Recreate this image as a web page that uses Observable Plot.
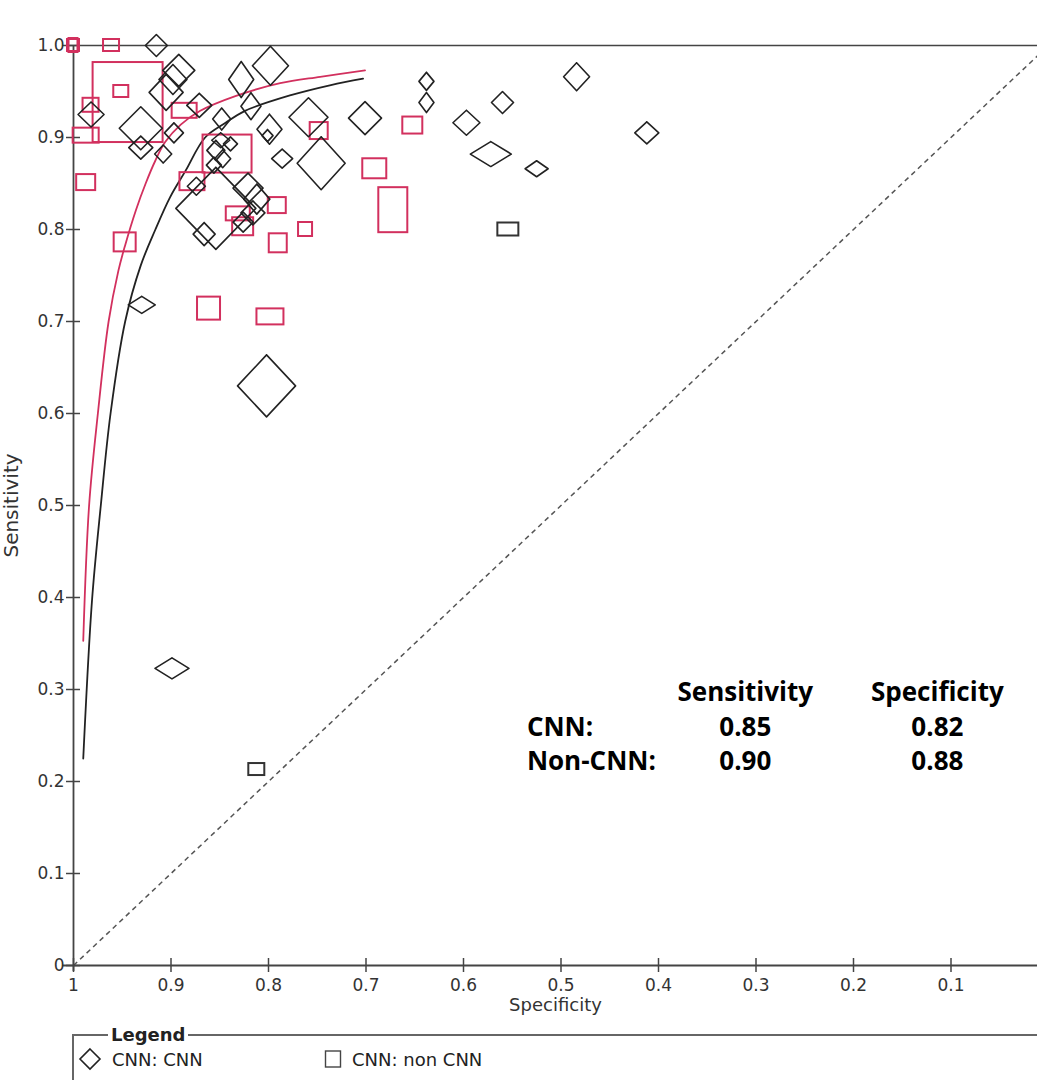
<!DOCTYPE html>
<html>
<head>
<meta charset="utf-8">
<script src="https://cdn.jsdelivr.net/npm/d3@7"></script>
<script src="https://cdn.jsdelivr.net/npm/@observablehq/plot@0.6"></script>
<style>
  html, body { margin: 0; padding: 0; background: #fff; width: 1037px; height: 1080px; overflow: hidden; }
  #chart { position: absolute; left: 0; top: 0; width: 1037px; height: 1022px; overflow: hidden; }
  #chart svg { overflow: hidden; }
  g[aria-label="table header"] text { text-decoration: underline; }
  #legend {
    position: absolute; left: 72px; top: 1025px; width: 1040px; height: 80px;
    margin: 0; padding: 0; border: 2px solid #666; border-right: none;
    font-family: "DejaVu Sans", sans-serif; font-size: 18px; color: #222;
    box-sizing: border-box;
  }
  #legend legend { font-weight: bold; padding: 0 3px; margin-left: 34px; font-size: 18px; line-height: 20px; }
  #legend .item { position: absolute; top: 2px; display: flex; align-items: center; }
</style>
</head>
<body>
<div id="chart"></div>
<fieldset id="legend"><legend>Legend</legend></fieldset>
<script>
// ---------- data ----------
// CNN studies (diamonds): specificity, sensitivity, relative symbol width (negatives) and height (positives)
const cnnSpec = [0.915, 0.982, 0.931, 0.892, 0.898, 0.905, 0.931, 0.908, 0.897, 0.871, 0.848, 0.798, 0.828, 0.818,
  0.799, 0.801, 0.759, 0.701, 0.746, 0.638, 0.638, 0.597, 0.560, 0.572, 0.525, 0.484, 0.412, 0.786, 0.854, 0.866,
  0.821, 0.812, 0.816, 0.826, 0.874, 0.854, 0.847, 0.856, 0.849, 0.839, 0.930, 0.802, 0.899];
const cnnSens = [1.000, 0.925, 0.910, 0.973, 0.963, 0.949, 0.889, 0.882, 0.905, 0.935, 0.920, 0.978, 0.963, 0.934,
  0.909, 0.902, 0.922, 0.921, 0.872, 0.961, 0.938, 0.916, 0.938, 0.882, 0.866, 0.966, 0.905, 0.877, 0.823, 0.795,
  0.845, 0.833, 0.818, 0.808, 0.847, 0.886, 0.877, 0.870, 0.897, 0.893, 0.718, 0.630, 0.323];
const cnnWNeg = [22, 26, 43, 32, 28, 34, 24, 17, 19, 25, 18, 36, 25, 20, 25, 11, 39, 33, 48, 15, 15, 27, 22, 41, 23,
  26, 24, 21, 80, 22, 30, 26, 24, 20, 18, 18, 16, 15, 18, 14, 27, 58, 34];
const cnnWPos = [22, 25, 43, 32, 30, 36, 23, 18, 20, 24, 22, 39, 36, 27, 30, 12, 39, 33, 53, 18, 20, 25, 22, 25, 16,
  28, 22, 19, 82, 23, 30, 30, 24, 20, 18, 20, 18, 16, 15, 14, 17, 62, 21];

// non-CNN studies (squares)
const nonSpec = [1.000, 1.000, 0.961, 0.944, 0.951, 0.982, 0.987, 0.987, 0.947, 0.886, 0.748, 0.652, 0.691, 0.672,
  0.762, 0.791, 0.790, 0.842, 0.831, 0.826, 0.878, 0.861, 0.798, 0.554, 0.812];
const nonSens = [1.000, 1.000, 1.000, 0.938, 0.950, 0.935, 0.902, 0.851, 0.786, 0.929, 0.907, 0.913, 0.866, 0.821,
  0.800, 0.826, 0.785, 0.882, 0.817, 0.803, 0.852, 0.714, 0.705, 0.800, 0.213];
const nonWNeg = [12, 9, 16, 70, 15, 16, 26, 19, 22, 25, 18, 20, 24, 29, 14, 18, 18, 49, 24, 21, 25, 23, 27, 21, 16];
const nonWPos = [12, 14, 12, 80, 12, 14, 15, 16, 19, 15, 17, 17, 20, 45, 14, 16, 19, 38, 14, 18, 18, 23, 16, 13, 12];
const nonPooled = [true, true, true, true, true, true, true, true, true, true, true, true, true, true,
  true, true, true, true, true, true, true, true, true, false, false];

// SROC curves
const curveCnnSpec = [0.990, 0.981, 0.972, 0.962, 0.947, 0.931, 0.916, 0.901, 0.885, 0.865, 0.844, 0.824, 0.777, 0.736, 0.703];
const curveCnnSens = [0.225, 0.397, 0.500, 0.600, 0.700, 0.761, 0.800, 0.835, 0.864, 0.900, 0.916, 0.929, 0.946, 0.957, 0.964];
const curveNonSpec = [0.990, 0.984, 0.975, 0.964, 0.954, 0.947, 0.936, 0.926, 0.916, 0.906, 0.890, 0.870, 0.834, 0.788, 0.747, 0.701];
const curveNonSens = [0.353, 0.500, 0.600, 0.700, 0.755, 0.783, 0.821, 0.850, 0.875, 0.895, 0.914, 0.929, 0.945, 0.959, 0.966, 0.973];

// axes
const xTicks = [1, 0.9, 0.8, 0.7, 0.6, 0.5, 0.4, 0.3, 0.2, 0.1];
const yTicks = [0, 0.1, 0.2, 0.3, 0.4, 0.5, 0.6, 0.7, 0.8, 0.9, 1];
const xLabel = "Specificity";
const yLabel = "Sensitivity";

// summary table
const tableHeaders = ["Sensitivity", "Specificity"];
const tableRows = ["CNN:", "Non-CNN:"];
const tableSens = ["0.85", "0.90"];
const tableSpec = ["0.82", "0.88"];

// legend
const legendLabels = ["CNN: CNN", "CNN: non CNN"];

// ---------- drawing ----------
const RED = "#d2305e";
const INK = "#222";
const X0 = 73, X1 = 1048, Y0 = 965, Y1 = 45, H = 1022;
const pxX = X1 - X0, pxY = Y0 - Y1;   // pixels per unit

const diamonds = cnnSpec.flatMap((s, i) => {
  const hw = cnnWNeg[i] / 2 / pxX, hh = cnnWPos[i] / 2 / pxY, e = cnnSens[i];
  return [[s, e + hh], [s - hw, e], [s, e - hh], [s + hw, e], [s, e + hh]]
    .map(([x, y]) => ({x, y, id: i}));
});
const squares = nonSpec.map((s, i) => ({
  x1: s + nonWNeg[i] / 2 / pxX, x2: s - nonWNeg[i] / 2 / pxX,
  y1: nonSens[i] - nonWPos[i] / 2 / pxY, y2: nonSens[i] + nonWPos[i] / 2 / pxY,
  color: nonPooled[i] ? RED : "#333"
}));
const curves = [
  ...curveCnnSpec.map((x, i) => ({x, y: curveCnnSens[i], g: "CNN"})),
  ...curveNonSpec.map((x, i) => ({x, y: curveNonSens[i], g: "non"}))
];
const colX = [0.535, 0.311, 0.114];
const rowY = [0.297, 0.259, 0.222];
const headerCells = tableHeaders.map((t, j) => ({t, col: j + 1, row: 0}));
const labelCells = tableRows.map((t, i) => ({t, col: 0, row: i + 1}));
const valueCells = [
  ...tableSens.map((t, i) => ({t, col: 1, row: i + 1})),
  ...tableSpec.map((t, i) => ({t, col: 2, row: i + 1}))
];
const tick = 7;
const tableFont = {fontFamily: "'Open Sans',sans-serif", fontWeight: "bold", fontSize: 26, fill: "#000"};
const axisFont = {fontFamily: "'DejaVu Sans',sans-serif", fill: "#333"};

const fmt = d => d === 1 ? "1" : d.toFixed(1);

const plot = Plot.plot({
  width: 1037, height: H,
  marginLeft: X0, marginRight: 0, marginTop: Y1, marginBottom: H - Y0,
  x: {domain: [1, 0], range: [X0, X1], axis: null},
  y: {domain: [0, 1], range: [Y0, Y1], axis: null},
  style: {fontFamily: "'DejaVu Sans',sans-serif", fontSize: "17px", color: "#333", background: "#fff", overflow: "hidden"},
  marks: [
    // chance line
    Plot.link([0], {x1: 1, y1: 0, x2: 0, y2: 1, stroke: "#555", strokeWidth: 1.5, strokeDasharray: "5,4"}),
    // frame lines
    Plot.ruleY([1], {x1: 1 + 11 / pxX, x2: 0, stroke: "#444", strokeWidth: 1.6}),
    Plot.ruleY([0], {x1: 1 + 11 / pxX, x2: 0, stroke: "#444", strokeWidth: 1.8}),
    Plot.ruleX([1], {y1: -6 / pxY, y2: 1, stroke: "#444", strokeWidth: 1.8}),
    // ticks
    Plot.ruleX(xTicks, {x: d => d, y1: -tick / pxY, y2: tick / pxY, stroke: "#444", strokeWidth: 1.5}),
    Plot.ruleY(yTicks, {y: d => d, x1: 1 + tick / pxX, x2: 1 - tick / pxX, stroke: "#444", strokeWidth: 1.5}),
    Plot.text(xTicks, {x: d => d, y: 0, text: fmt, dy: 20, fontSize: 17, ...axisFont}),
    Plot.text(yTicks, {x: 1, y: d => d, text: d => d === 0 ? "0" : d.toFixed(1), dx: -9, textAnchor: "end", fontSize: 17, ...axisFont}),
    Plot.text([xLabel], {frameAnchor: "bottom", dy: 45, text: d => d, fontSize: 18, ...axisFont}),
    Plot.text([yLabel], {frameAnchor: "left", textAnchor: "middle", dx: -62, rotate: -90, text: d => d, fontSize: 20, ...axisFont}),
    // SROC curves
    Plot.line(curves, {x: "x", y: "y", z: "g", stroke: d => d.g === "CNN" ? INK : RED, strokeWidth: 1.8, curve: "catmull-rom"}),
    // study squares
    Plot.rect(squares, {x1: "x1", x2: "x2", y1: "y1", y2: "y2", fill: "none", stroke: "color", strokeWidth: 2}),
    // study diamonds
    Plot.line(diamonds, {x: "x", y: "y", z: "id", stroke: INK, strokeWidth: 1.6, curve: "linear"}),
    // summary table
    Plot.text(headerCells, {ariaLabel: "table header", x: d => colX[d.col], y: d => rowY[d.row], text: "t", textAnchor: "middle", ...tableFont}),
    Plot.text(labelCells, {x: d => colX[d.col], y: d => rowY[d.row], text: "t", textAnchor: "start", ...tableFont}),
    Plot.text(valueCells, {x: d => colX[d.col], y: d => rowY[d.row], text: "t", textAnchor: "middle", ...tableFont})
  ]
});
document.getElementById("chart").appendChild(plot);

// legend
const lg = document.getElementById("legend");
const symbols = [
  '<svg width="24" height="24"><path d="M12 2 L22 12 L12 22 L2 12 Z" fill="none" stroke="#222" stroke-width="1.6"/></svg>',
  '<svg width="18" height="24"><rect x="1.5" y="4" width="15" height="16" fill="none" stroke="#444" stroke-width="1.4"/></svg>'
];
const legendX = [4, 250];
const legendGap = [10, 10];
legendLabels.forEach((t, i) => {
  const d = document.createElement("div");
  d.className = "item";
  d.style.left = legendX[i] + "px";
  d.style.gap = legendGap[i] + "px";
  d.innerHTML = symbols[i] + "<span>" + t + "</span>";
  lg.appendChild(d);
});
</script>
</body>
</html>
